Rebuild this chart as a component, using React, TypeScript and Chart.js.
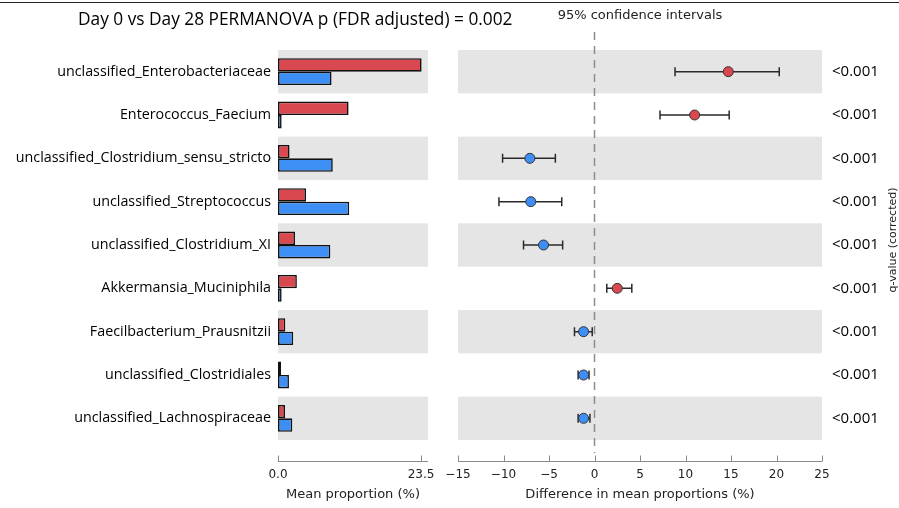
import React, { useEffect, useRef } from 'react';
import { Chart, registerables } from 'chart.js';
Chart.register(...registerables);

const categories = [
  'unclassified_Enterobacteriaceae',
  'Enterococcus_Faecium',
  'unclassified_Clostridium_sensu_stricto',
  'unclassified_Streptococcus',
  'unclassified_Clostridium_XI',
  'Akkermansia_Muciniphila',
  'Faecilbacterium_Prausnitzii',
  'unclassified_Clostridiales',
  'unclassified_Lachnospiraceae',
];
const day0Mean = [23.6, 11.6, 1.9, 4.6, 2.8, 3.1, 1.2, 0.5, 1.15];
const day28Mean = [8.8, 0.6, 9.0, 11.7, 8.6, 0.6, 2.5, 1.8, 2.35];
const diffMean = [14.7, 11.0, -7.1, -7.0, -5.6, 2.5, -1.2, -1.2, -1.2];
const ciLow = [8.85, 7.2, -10.1, -10.5, -7.8, 1.35, -2.2, -1.8, -1.8];
const ciHigh = [20.3, 14.8, -4.3, -3.6, -3.5, 4.1, -0.25, -0.6, -0.5];
const qValues = ['<0.001', '<0.001', '<0.001', '<0.001', '<0.001', '<0.001', '<0.001', '<0.001', '<0.001'];
const meanTicks = [0, 23.5];
const meanMax = 24.65;
const diffMin = -15;
const diffMax = 25;
const diffStep = 5;

const TITLE = 'Day 0 vs Day 28 PERMANOVA p (FDR adjusted) = 0.002';
const RED = '#d9474f';
const BLUE = '#3d8ef5';
const BAND = '#e5e5e5';
const LABEL_FONT = 'Open Sans';
const MPL_FONT = 'DejaVu Sans';

const W = 899;
const H = 508;

function drawBands(chart: any) {
  const { ctx, chartArea: a, scales } = chart;
  const y = scales.y;
  const step = y.getPixelForValue(1) - y.getPixelForValue(0);
  ctx.save();
  ctx.fillStyle = BAND;
  categories.forEach((_, i) => {
    if (i % 2 === 0) {
      const c = y.getPixelForValue(i);
      ctx.fillRect(a.left, c - step / 2, a.width, step);
    }
  });
  ctx.restore();
}

function drawBaseline(chart: any, ticks: number[]) {
  const { ctx, chartArea: a, scales } = chart;
  const x = scales.x;
  const by = a.bottom + 21.5;
  ctx.save();
  ctx.strokeStyle = '#8a8a8a';
  ctx.lineWidth = 1;
  ctx.beginPath();
  ctx.moveTo(a.left, by);
  ctx.lineTo(a.right, by);
  ticks.forEach((t) => {
    const px = Math.round(x.getPixelForValue(t)) + 0.5;
    ctx.moveTo(px, by);
    ctx.lineTo(px, by - 6);
  });
  ctx.stroke();
  ctx.restore();
}

const leftPlugin = {
  id: 'leftDeco',
  beforeDatasetsDraw(chart: any) {
    drawBands(chart);
  },
  afterDraw(chart: any) {
    const { ctx } = chart;
    drawBaseline(chart, meanTicks);
    ctx.save();
    ctx.fillStyle = '#222';
    ctx.fillRect(0, 2, W, 1);
    ctx.fillStyle = '#000';
    ctx.font = `17.3px "${LABEL_FONT}"`;
    ctx.textAlign = 'left';
    ctx.textBaseline = 'alphabetic';
    ctx.fillText(TITLE, 78, 24.5);
    ctx.restore();
  },
};

const diffTicks: number[] = [];
for (let v = diffMin; v <= diffMax; v += diffStep) diffTicks.push(v);

const rightPlugin = {
  id: 'rightDeco',
  beforeDatasetsDraw(chart: any) {
    const { ctx, chartArea: a, scales } = chart;
    drawBands(chart);
    const x = scales.x;
    const y = scales.y;
    const x0 = x.getPixelForValue(0);
    ctx.save();
    ctx.strokeStyle = '#8c8c8c';
    ctx.lineWidth = 1.5;
    ctx.setLineDash([8, 6]);
    ctx.beginPath();
    ctx.moveTo(x0, a.top - 18);
    ctx.lineTo(x0, a.bottom + 13);
    ctx.stroke();
    ctx.restore();
    ctx.save();
    ctx.strokeStyle = '#2a2a2a';
    ctx.lineWidth = 1.5;
    categories.forEach((_, i) => {
      const yc = y.getPixelForValue(i);
      const xl = x.getPixelForValue(ciLow[i]);
      const xh = x.getPixelForValue(ciHigh[i]);
      ctx.beginPath();
      ctx.moveTo(xl, yc);
      ctx.lineTo(xh, yc);
      ctx.moveTo(xl, yc - 4.5);
      ctx.lineTo(xl, yc + 4.5);
      ctx.moveTo(xh, yc - 4.5);
      ctx.lineTo(xh, yc + 4.5);
      ctx.stroke();
    });
    ctx.restore();
  },
  afterDraw(chart: any) {
    const { ctx, chartArea: a } = chart;
    drawBaseline(chart, diffTicks);
    ctx.save();
    ctx.fillStyle = '#222';
    ctx.font = `13px "${MPL_FONT}"`;
    ctx.textAlign = 'center';
    ctx.textBaseline = 'middle';
    ctx.fillText('95% confidence intervals', (a.left + a.right) / 2, 16);
    ctx.translate(893, (a.top + a.bottom) / 2 - 5);
    ctx.rotate(-Math.PI / 2);
    ctx.font = `11px "${MPL_FONT}"`;
    ctx.fillText('q-value (corrected)', 0, 0);
    ctx.restore();
  },
};

export default function App() {
  const leftRef = useRef<HTMLCanvasElement>(null);
  const rightRef = useRef<HTMLCanvasElement>(null);

  useEffect(() => {
    const left = new Chart(leftRef.current as HTMLCanvasElement, {
      type: 'bar',
      data: {
        labels: categories,
        datasets: [
          {
            label: 'Day 0',
            data: day0Mean,
            backgroundColor: RED,
            borderColor: '#111',
            borderWidth: 1.6,
            borderSkipped: false,
            categoryPercentage: 0.62,
            barPercentage: 1,
          },
          {
            label: 'Day 28',
            data: day28Mean,
            backgroundColor: BLUE,
            borderColor: '#111',
            borderWidth: 1.6,
            borderSkipped: false,
            categoryPercentage: 0.62,
            barPercentage: 1,
          },
        ],
      },
      options: {
        indexAxis: 'y',
        responsive: false,
        animation: false,
        events: [],
        layout: { padding: { left: 0, top: 50, right: W - 428, bottom: 0 } },
        plugins: { legend: { display: false }, tooltip: { enabled: false }, title: { display: false } },
        scales: {
          y: {
            type: 'category',
            offset: true,
            grid: { display: false, drawTicks: false },
            border: { display: false },
            ticks: { color: '#000', font: { family: LABEL_FONT, size: 14.3 }, padding: 7, autoSkip: false },
            afterFit: (s: any) => {
              s.width = 278;
            },
          },
          x: {
            type: 'linear',
            min: 0,
            max: meanMax,
            grid: { display: false, drawTicks: false },
            border: { display: false },
            afterBuildTicks: (s: any) => {
              s.ticks = meanTicks.map((v) => ({ value: v }));
            },
            ticks: {
              autoSkip: false,
              maxRotation: 0,
              color: '#222',
              font: { family: MPL_FONT, size: 12 },
              padding: 28,
              callback: (v: any) => Number(v).toFixed(1),
            },
            title: {
              display: true,
              text: 'Mean proportion (%)',
              color: '#222',
              font: { family: MPL_FONT, size: 13 },
              padding: { top: 0, bottom: 6 },
            },
            afterFit: (s: any) => {
              s.height = 68;
            },
          },
        },
      } as any,
      plugins: [leftPlugin],
    });

    const right = new Chart(rightRef.current as HTMLCanvasElement, {
      type: 'line',
      data: {
        labels: categories,
        datasets: [
          {
            label: 'Difference',
            data: diffMean,
            showLine: false,
            pointRadius: 5,
            pointBorderWidth: 1,
            pointBorderColor: '#333',
            pointBackgroundColor: diffMean.map((v) => (v > 0 ? RED : BLUE)),
            yAxisID: 'y',
          },
        ],
      },
      options: {
        indexAxis: 'y',
        responsive: false,
        animation: false,
        events: [],
        layout: { padding: { left: 458, top: 50, right: 0, bottom: 0 } },
        plugins: { legend: { display: false }, tooltip: { enabled: false }, title: { display: false } },
        scales: {
          y: {
            type: 'category',
            offset: true,
            display: false,
          },
          yq: {
            type: 'category',
            position: 'right',
            labels: qValues,
            offset: true,
            grid: { display: false, drawTicks: false },
            border: { display: false },
            ticks: { color: '#000', font: { family: LABEL_FONT, size: 15 }, padding: 10, autoSkip: false },
            afterFit: (s: any) => {
              s.width = 77;
            },
          },
          x: {
            type: 'linear',
            min: diffMin,
            max: diffMax,
            grid: { display: false, drawTicks: false },
            border: { display: false },
            ticks: {
              stepSize: diffStep,
              autoSkip: false,
              maxRotation: 0,
              color: '#222',
              font: { family: MPL_FONT, size: 12 },
              padding: 28,
              callback: (v: any) => (Number(v) < 0 ? '\u2212' + Math.abs(Number(v)) : String(v)),
            },
            title: {
              display: true,
              text: 'Difference in mean proportions (%)',
              color: '#222',
              font: { family: MPL_FONT, size: 13 },
              padding: { top: 0, bottom: 6 },
            },
            afterFit: (s: any) => {
              s.height = 68;
            },
          },
        },
      } as any,
      plugins: [rightPlugin],
    });

    return () => {
      left.destroy();
      right.destroy();
    };
  }, []);

  const canvasStyle: React.CSSProperties = { position: 'absolute', left: 0, top: 0, width: W, height: H };
  return (
    <div style={{ position: 'fixed', left: 0, top: 0, width: W, height: H, background: '#fff' }}>
      <canvas ref={leftRef} width={W} height={H} style={canvasStyle} />
      <canvas ref={rightRef} width={W} height={H} style={canvasStyle} />
    </div>
  );
}
